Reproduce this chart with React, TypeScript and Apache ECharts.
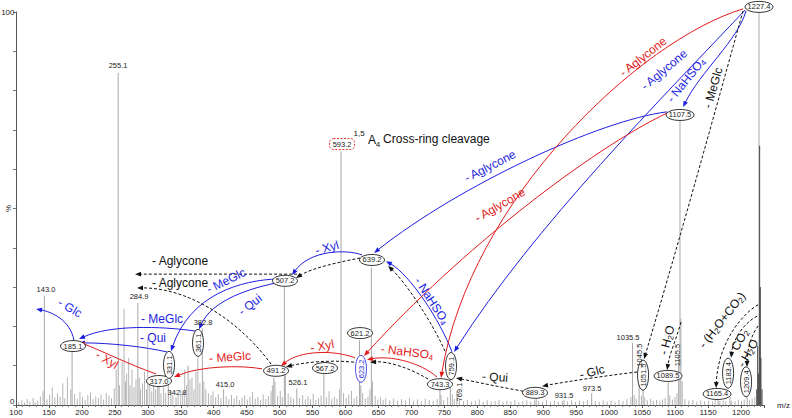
import React, { useEffect, useRef } from 'react';
import * as echarts from 'echarts';

const FONT = '"Liberation Sans", Arial, Helvetica, sans-serif';
const BLUE = '#1e1ee0';
const RED = '#e01c1c';
const BLACK = '#111111';

// ---- spectrum data: [m/z, relative intensity %] ----
const labeledPeaks: [number, number][] = [
  [143.0, 27.8], [185.1, 13.5], [255.1, 84.5], [284.9, 26], [317.0, 4.6], [331.1, 6],
  [342.8, 2], [361.1, 10], [382.8, 19.5], [415.0, 4], [491.2, 7], [507.2, 30],
  [526.1, 4.2], [567.2, 7.8], [593.2, 64.5], [621.2, 16.5], [623.2, 5], [639.2, 35],
  [743.3, 3.8], [759.1, 6], [769.1, 3.5], [889.3, 1.6], [931.5, 1.2], [973.5, 3],
  [1035.5, 15.8], [1045.5, 9.5], [1051.5, 6], [1089.5, 5.8], [1105.5, 13], [1107.5, 72.5],
  [1165.4, 1.3], [1183.4, 2], [1209.4, 2], [1227.4, 100],
];

const minorPeaks: [number, number][] = [
  [104, 0.8], [109, 1.2], [113, 0.6], [117, 1.5], [121, 0.9], [126, 1.8], [129, 0.7], [133, 1.1],
  [137, 2.2], [141, 3.5], [147, 1.4], [151, 2.6], [155, 4.5], [159, 1.9], [163, 3], [167, 2.1],
  [171, 5.5], [174, 1.7], [178, 7], [183, 4], [189, 2.8], [193, 1.6], [197, 3.4], [201, 2],
  [205, 1.3], [209, 2.5], [213, 3.2], [217, 1.5], [221, 2.2], [225, 1.8], [229, 2.7], [233, 1.4],
  [237, 3.1], [241, 2.4], [245, 1.7], [249, 4.2], [252, 9], [257, 5], [261, 11], [264, 24.5],
  [266, 6], [268, 8], [271, 12], [273, 5], [276, 9], [279, 4.5], [282, 6.5], [287, 7],
  [289, 4], [292, 5.5], [295, 8.5], [298, 4], [300, 17], [303, 6], [306, 3.5], [309, 5],
  [312, 4], [315, 6.5], [320, 3], [324, 4.5], [327, 3], [335, 3.5], [338, 2.5], [346, 2.8],
  [350, 4], [353, 3.2], [356, 9], [359, 5], [364, 6.5], [367, 7], [370, 4], [373, 8.5],
  [376, 12], [379, 5.5], [385, 6], [388, 4], [392, 3], [396, 2.5], [399, 3.5], [403, 2],
  [407, 2.8], [411, 1.8], [419, 2.2], [423, 1.5], [427, 2.6], [431, 1.7], [435, 2.4], [439, 1.3],
  [443, 1.9], [447, 2.5], [451, 1.4], [455, 2.1], [459, 3.3], [463, 1.6], [467, 2], [471, 1.2],
  [475, 2.7], [479, 1.5], [483, 2.3], [487, 3.5], [489, 5], [493, 6], [497, 2.4], [501, 3.6],
  [504, 2], [509, 7.5], [513, 3], [517, 2.1], [521, 1.6], [530, 1.8], [535, 2.5], [539, 1.4],
  [543, 2.2], [547, 1.5], [551, 2.9], [555, 1.3], [559, 1.8], [563, 2.4], [571, 2], [575, 3.5],
  [579, 1.5], [583, 2.1], [587, 1.6], [591, 4], [597, 3], [601, 1.8], [605, 2.6], [609, 3.6],
  [613, 1.7], [617, 2.2], [626, 3], [630, 1.6], [634, 2.1], [637, 4], [641, 6], [645, 2.3],
  [649, 1.4], [653, 2], [657, 1.3], [661, 1.7], [667, 1.2], [673, 1.6], [679, 1.1], [685, 1.5],
  [691, 1.2], [697, 1.8], [703, 1.1], [709, 1.4], [715, 1], [721, 1.6], [727, 1.3], [733, 1.1],
  [739, 1.5], [745, 2.5], [749, 1.3], [755, 2], [762, 2.8], [765, 1.5], [773, 1.4], [779, 1],
  [785, 1.3], [791, 0.9], [797, 1.1], [803, 1.4], [809, 0.8], [815, 1.2], [821, 0.9], [827, 1],
  [833, 1.3], [839, 0.8], [845, 1.1], [851, 0.9], [857, 1.3], [863, 0.8], [869, 1], [875, 1.2],
  [881, 0.9], [887, 1.2], [893, 1], [899, 0.8], [905, 1.3], [911, 0.9], [917, 1.1], [923, 0.8],
  [929, 1], [937, 0.9], [943, 1.2], [949, 0.8], [955, 1.1], [961, 0.9], [967, 1.3], [979, 1],
  [985, 0.8], [991, 1.2], [997, 0.9], [1003, 1.1], [1009, 0.8], [1015, 1.3], [1021, 1], [1027, 1.5],
  [1033, 2], [1038, 2.5], [1041, 1.6], [1049, 2.4], [1054, 2], [1058, 1.2], [1063, 1.6], [1067, 1],
  [1072, 1.3], [1077, 1.1], [1081, 1.4], [1085, 1.8], [1092, 2.5], [1096, 1.4], [1100, 2], [1103, 3],
  [1109, 22], [1111, 6], [1115, 1.5], [1121, 1.1], [1127, 1.3], [1133, 0.9], [1139, 1.2], [1145, 1],
  [1151, 1.1], [1157, 0.9], [1161, 1.3], [1168, 1], [1173, 1.2], [1177, 1], [1186, 1.1], [1191, 1],
  [1196, 1.3], [1201, 1.1], [1205, 1.4], [1213, 1.2], [1217, 1.6], [1221, 2],
];

const clusterPeaks: [number, number][] = [
  [1224, 4], [1225.4, 15], [1226.4, 8], [1228.4, 66], [1229.4, 30], [1230.4, 12], [1232, 4],
];

// ---- annotations, placed in data space [m/z, %] ----
type Ell = { t: string; at: [number, number]; v?: boolean; c?: string };
const ellipseLabels: Ell[] = [
  { t: '1227.4', at: [1227.5, 101.3] },
  { t: '1107.5', at: [1107.6, 73.8] },
  { t: '639.2', at: [640.2, 36.9] },
  { t: '507.2', at: [508.2, 31.6] },
  { t: '621.2', at: [622, 18.3] },
  { t: '623.2', at: [623.5, 9.2], v: true, c: BLUE },
  { t: '759.1', at: [760.1, 9.9], v: true },
  { t: '743.3', at: [743.4, 5.3] },
  { t: '491.2', at: [494.6, 8.7] },
  { t: '567.2', at: [568.9, 9.4] },
  { t: '317.0', at: [317, 6.1] },
  { t: '331.1', at: [332.2, 10.2], v: true },
  { t: '361.1', at: [376.2, 15.8], v: true },
  { t: '185.1', at: [186.5, 15] },
  { t: '889.3', at: [887.6, 3.1] },
  { t: '1051.5', at: [1051.5, 7.6], v: true },
  { t: '1089.5', at: [1089.4, 7.4] },
  { t: '1165.4', at: [1163.8, 2.8] },
  { t: '1183.4', at: [1180.5, 8.1], v: true },
  { t: '1209.4', at: [1207.8, 5.9], v: true },
];
const boxedLabel = { t: '593.2', at: [594.7, 66.4] as [number, number] };

type PL = { t: string; at: [number, number]; v?: boolean };
const peakLabels: PL[] = [
  { t: '255.1', at: [254.8, 86.5] },
  { t: '143.0', at: [145.5, 29.5] },
  { t: '284.9', at: [286.7, 27.5] },
  { t: '382.8', at: [383.8, 21.1] },
  { t: '342.8', at: [344.3, 3.3] },
  { t: '415.0', at: [417.2, 5.3] },
  { t: '526.1', at: [527.9, 5.6] },
  { t: '931.5', at: [931.6, 2.3] },
  { t: '973.5', at: [974.1, 4.3] },
  { t: '1035.5', at: [1028.7, 17.3] },
  { t: '769.1', at: [772.2, 3.3], v: true },
  { t: '1045.5', at: [1045.4, 12.7], v: true },
  { t: '1105.5', at: [1103.1, 12.7], v: true },
];

type Note = { t: string; at: [number, number]; r: number; c: string };
const notes: Note[] = [
  { t: '{n|- NaHSO}{s|4}', at: [1116.7, 82.7], r: 51, c: BLUE },
  { t: '{n|- Aglycone}', at: [1083.3, 85.3], r: 40, c: BLUE },
  { t: '{n|- Aglycone}', at: [819.3, 60.8], r: 27, c: BLUE },
  { t: '{n|- NaHSO}{s|4}', at: [731, 26.5], r: -57, c: BLUE },
  { t: '{n|- Xyl}', at: [571.9, 40], r: 15, c: BLUE },
  { t: '{n|- MeGlc}', at: [418.7, 31.6], r: 26, c: BLUE },
  { t: '{n|- Qui}', at: [455.1, 25.5], r: 38, c: BLUE },
  { t: '{n|- MeGlc}', at: [321.6, 21.9], r: 0, c: BLUE },
  { t: '{n|- Qui}', at: [307.9, 17.1], r: 0, c: BLUE },
  { t: '{n|- Glc}', at: [181.9, 24.7], r: -30, c: BLUE },
  { t: '{n|- Aglycone}', at: [1051.5, 88.6], r: 38, c: RED },
  { t: '{n|- Aglycone}', at: [834.5, 50.9], r: 30, c: RED },
  { t: '{n|- Xyl}', at: [564.4, 15], r: 10, c: RED },
  { t: '{n|- NaHSO}{s|4}', at: [693.3, 13.5], r: -7, c: RED },
  { t: '{n|- MeGlc}', at: [424.7, 12.2], r: 4, c: RED },
  { t: '{n|- Xyl}', at: [238.1, 11.5], r: -30, c: RED },
  { t: '{n|- MeGlc}', at: [1157.7, 80.7], r: 74, c: BLACK },
  { t: '{n|- H}{s|2}{n|O}', at: [1087.9, 16.5], r: 75, c: BLACK },
  { t: '{n|- Glc}', at: [974.1, 8.4], r: 14, c: BLACK },
  { t: '{n|- Qui}', at: [826.9, 7.1], r: -4, c: BLACK },
  { t: '{n|- Aglycone}', at: [348.9, 36.6], r: 0, c: BLACK },
  { t: '{n|- Aglycone}', at: [348.9, 31], r: 0, c: BLACK },
  { t: '{n|- (H}{s|2}{n|O+CO}{s|2}{n|)}', at: [1171.4, 21.6], r: 52, c: BLACK },
  { t: '{n|- CO}{s|2}', at: [1195.6, 15.8], r: 60, c: BLACK },
  { t: '{n|- H}{s|2}{n|O}', at: [1210.8, 13.2], r: 60, c: BLACK },
];

type Arrow = { p: [number, number][]; c: string; d?: boolean };
const arrows: Arrow[] = [
  { p: [[1207.8, 100.3], [1195.6, 92.9], [1138, 84.7], [1112.2, 75.8]], c: BLUE },
  { p: [[1206.3, 100.5], [1084.9, 78.9], [887.6, 45.8], [764.7, 13.5]], c: BLUE },
  { p: [[1087.9, 74.6], [986.2, 72.5], [773.8, 56], [643.3, 38.7]], c: BLUE },
  { p: [[761.6, 13.5], [743.4, 21.6], [697.9, 33.1], [661.5, 36.6]], c: BLUE },
  { p: [[625, 38.2], [599.2, 39.7], [546.1, 39.4], [518.8, 33.1]], c: BLUE },
  { p: [[499.1, 32.1], [439.9, 31.8], [364, 28], [335.2, 13.7]], c: BLUE },
  { p: [[502.1, 31.3], [455.1, 29.8], [397.4, 26.7], [377.7, 19.3]], c: BLUE },
  { p: [[373.2, 18.8], [318.5, 20.1], [242.6, 20.4], [195.6, 16.8]], c: BLUE },
  { p: [[329.1, 13.5], [295.8, 14.8], [242.6, 15.8], [195.6, 15.8]], c: BLUE },
  { p: [[188, 16.5], [181.9, 21.6], [154.6, 23.7], [130.4, 24.4]], c: BLUE },
  { p: [[1203.2, 100.8], [1046.9, 92.9], [788.9, 52.2], [744.9, 6.9]], c: RED },
  { p: [[1087.9, 74.3], [971, 64.9], [773.8, 39.4], [628.1, 12.5]], c: RED },
  { p: [[738.9, 7.1], [713.1, 10.9], [667.5, 12.7], [632.6, 11.5]], c: RED },
  { p: [[614.4, 12], [584.1, 14], [531, 14], [502.1, 9.9]], c: RED },
  { p: [[473.3, 9.2], [439.9, 10.2], [379.2, 9.9], [339.8, 7.1]], c: RED },
  { p: [[312.5, 7.9], [273, 10.2], [227.5, 14], [195.6, 16]], c: RED },
  { p: [[1203.2, 100.3], [1153.1, 70], [1104.6, 40.7], [1053, 11.7]], c: BLACK, d: true },
  { p: [[1109.1, 21.1], [1103.1, 17.3], [1092.4, 13.5], [1087.9, 8.9]], c: BLACK, d: true },
  { p: [[1226, 25.5], [1206.3, 23.7], [1165.3, 16.5], [1162.3, 4.3]], c: BLACK, d: true },
  { p: [[1224.5, 22.6], [1206.3, 21.1], [1188.1, 17], [1185, 12]], c: BLACK, d: true },
  { p: [[1226, 20.1], [1216.9, 18.1], [1209.3, 14.5], [1209.3, 9.7]], c: BLACK, d: true },
  { p: [[1042.4, 8.4], [1001.4, 7.6], [940.7, 6.1], [898.2, 4.8]], c: BLACK, d: true },
  { p: [[877, 3.3], [842.1, 4.3], [796.5, 5.9], [767.7, 6.9]], c: BLACK, d: true },
  { p: [[751, 13.7], [728.2, 22.1], [690.3, 31.3], [664.6, 35.4]], c: BLACK, d: true },
  { p: [[622, 37.4], [591.7, 36.4], [549.2, 34.9], [524.9, 32.3]], c: BLACK, d: true },
  { p: [[526.4, 33.3], [450, 33.3], [350, 33.3], [280.6, 33.3]], c: BLACK, d: true },
  { p: [[487, 10.4], [447.5, 19.6], [371.6, 29.8], [283.6, 29.8]], c: BLACK, d: true },
  { p: [[725.2, 6.6], [697.9, 9.4], [664.5, 11.2], [637.2, 10.9]], c: BLACK, d: true },
  { p: [[612.9, 10.9], [576.5, 11.5], [538.6, 10.9], [509.7, 9.7]], c: BLACK, d: true },
];

function peakSeries(data: [number, number][], color: string) {
  return {
    type: 'custom',
    data,
    silent: true,
    renderItem: (_p: any, api: any) => {
      const m = api.value(0);
      const v = api.value(1);
      const a = api.coord([m, 0]);
      const b = api.coord([m, v]);
      return {
        type: 'line',
        shape: { x1: a[0], y1: a[1], x2: b[0], y2: b[1] },
        style: { stroke: color, lineWidth: 1 },
      };
    },
  };
}

export default function App() {
  const ref = useRef<HTMLDivElement>(null);
  useEffect(() => {
    if (!ref.current) return;
    const chart = echarts.init(ref.current, null, { renderer: 'svg' });
    chart.setOption({
      animation: false,
      textStyle: { fontFamily: FONT },
      grid: { left: 16, top: 12, width: 748, height: 393, containLabel: false, outerBoundsMode: 'none' },
      xAxis: {
        type: 'value', min: 100, max: 1235, interval: 50,
        axisLine: { lineStyle: { color: '#555', width: 1 } },
        axisTick: { length: 3, lineStyle: { color: '#555' } },
        minorTick: { show: true, splitNumber: 5, length: 2, lineStyle: { color: '#777' } },
        splitLine: { show: false },
        axisLabel: {
          fontSize: 8, color: '#222', margin: 3, showMaxLabel: false, fontFamily: FONT,
          formatter: (v: number) => (v > 1200 ? '' : String(v)),
        },
        name: 'm/z', nameLocation: 'end', nameGap: 13,
        nameTextStyle: { fontSize: 8, color: '#222', fontFamily: FONT },
      },
      yAxis: {
        type: 'value', min: 0, max: 100, interval: 10,
        axisLine: { show: true, lineStyle: { color: '#555' } },
        axisTick: { show: true, length: 3, lineStyle: { color: '#777' } },
        splitLine: { show: false },
        axisLabel: {
          fontSize: 8, color: '#222', margin: 1.5, fontFamily: FONT,
          formatter: (v: number) => (v === 100 ? '100' : v === 0 ? '{b|0}' : ''),
          rich: { b: { fontSize: 8, fontFamily: FONT, color: '#222', padding: [0, 0, 7, 0] } },
        },
      },
      series: [
        peakSeries(minorPeaks, '#b4b4b4'),
        peakSeries(labeledPeaks, '#a8a8a8'),
        peakSeries(clusterPeaks, '#444'),
      ],
    });

    const P = (d: [number, number]) => chart.convertToPixel({ gridIndex: 0 } as any, d) as number[];
    const g: any[] = [];

    arrows.forEach((a) => {
      const [s, c1, c2, e] = a.p.map(P);
      const dx = e[0] - c2[0];
      const dy = e[1] - c2[1];
      const len = Math.hypot(dx, dy) || 1;
      const ux = dx / len, uy = dy / len;
      const hl = 6, hw = 2.4;
      const bx = e[0] - ux * hl, by = e[1] - uy * hl;
      g.push({
        type: 'bezierCurve', z: 10, silent: true,
        shape: { x1: s[0], y1: s[1], cpx1: c1[0], cpy1: c1[1], cpx2: c2[0], cpy2: c2[1], x2: bx + ux * 1, y2: by + uy * 1 },
        style: { stroke: a.c, fill: 'none', lineWidth: 1, lineDash: a.d ? [3, 2] : null },
      });
      g.push({
        type: 'polygon', z: 11, silent: true,
        shape: { points: [[e[0], e[1]], [bx - uy * hw, by + ux * hw], [bx + uy * hw, by - ux * hw]] },
        style: { fill: a.c, stroke: 'none' },
      });
    });

    ellipseLabels.forEach((n) => {
      const [x, y] = P(n.at);
      const long = n.t.length > 5;
      const rx = n.v ? 5.5 : long ? 14 : 12.5;
      const ry = n.v ? (long ? 15 : 13.5) : 5.5;
      g.push({
        type: 'ellipse', z: 20, silent: true,
        shape: { cx: x, cy: y, rx, ry },
        style: { fill: '#fff', stroke: n.c || '#000', lineWidth: 0.8 },
      });
      g.push({
        type: 'text', z: 21, silent: true, x, y, rotation: n.v ? Math.PI / 2 : 0,
        style: { text: n.t, fontSize: 7.5, fontFamily: FONT, fill: n.c || '#222', align: 'center', verticalAlign: 'middle' },
      });
    });

    {
      const [x, y] = P(boxedLabel.at);
      g.push({
        type: 'rect', z: 20, silent: true,
        shape: { x: x - 12.5, y: y - 5.5, width: 25, height: 11, r: 4 },
        style: { fill: '#fff', stroke: RED, lineWidth: 0.9, lineDash: [2, 1.5] },
      });
      g.push({
        type: 'text', z: 21, silent: true, x, y,
        style: { text: boxedLabel.t, fontSize: 7.5, fontFamily: FONT, fill: '#222', align: 'center', verticalAlign: 'middle' },
      });
    }

    peakLabels.forEach((n) => {
      const [x, y] = P(n.at);
      g.push({
        type: 'text', z: 21, silent: true, x, y, rotation: n.v ? Math.PI / 2 : 0,
        style: { text: n.t, fontSize: 7.5, fontFamily: FONT, fill: '#222', align: 'center', verticalAlign: 'middle' },
      });
    });

    notes.forEach((n) => {
      const [x, y] = P(n.at);
      g.push({
        type: 'text', z: 30, silent: true, x, y, rotation: (n.r * Math.PI) / 180,
        style: {
          text: n.t, align: 'center', verticalAlign: 'middle', fill: n.c,
          rich: {
            n: { fontSize: 12, fontFamily: FONT, fill: n.c, lineHeight: 14 },
            s: { fontSize: 8, fontFamily: FONT, fill: n.c, lineHeight: 10, verticalAlign: 'bottom' },
          },
        },
      });
    });

    // y-axis name "%" beside the axis middle
    {
      const [ax, ay] = P([100, 50]);
      g.push({
        type: 'text', z: 30, silent: true, x: ax - 8, y: ay, rotation: Math.PI / 2,
        style: { text: '%', fontSize: 8, fontFamily: FONT, fill: '#222', align: 'center', verticalAlign: 'middle' },
      });
    }

    // 1,5A4 cross-ring cleavage caption
    const capParts: { t: string; at: [number, number]; fs: number; al: string }[] = [
      { t: '1,5', at: [620.5, 69], fs: 8, al: 'center' },
      { t: 'A', at: [640.2, 67.4], fs: 12, al: 'center' },
      { t: '4', at: [649.4, 66.2], fs: 8, al: 'center' },
      { t: 'Cross-ring cleavage', at: [657, 67.7], fs: 12, al: 'left' },
    ];
    capParts.forEach((c) => {
      const [x, y] = P(c.at);
      g.push({
        type: 'text', z: 30, silent: true, x, y,
        style: { text: c.t, fontSize: c.fs, fontFamily: FONT, fill: BLACK, align: c.al, verticalAlign: 'middle' },
      });
    });

    chart.setOption({ graphic: { elements: g } });
    return () => chart.dispose();
  }, []);

  return (
    <div
      ref={ref}
      style={{ position: 'fixed', left: 0, top: 0, width: 792, height: 418, background: '#fff' }}
    />
  );
}
